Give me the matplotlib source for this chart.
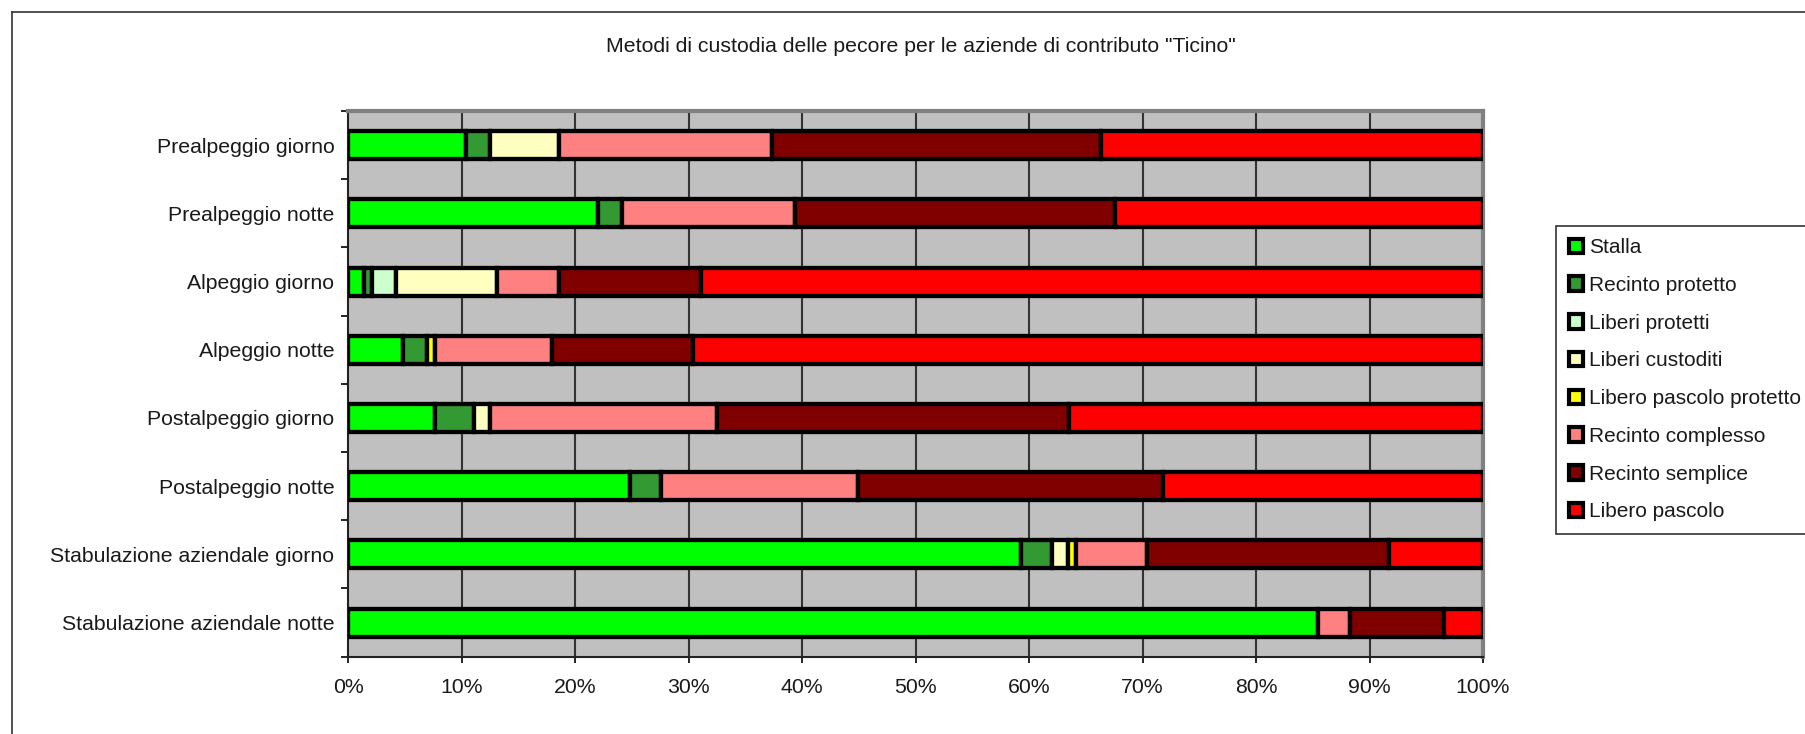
import matplotlib
matplotlib.use("Agg")
import matplotlib.pyplot as plt
from matplotlib.patches import Patch
from matplotlib.lines import Line2D
import numpy as np

plt.rcParams['font.family'] = ['Liberation Sans', 'DejaVu Sans']

categories = ['Prealpeggio giorno', 'Prealpeggio notte', 'Alpeggio giorno', 'Alpeggio notte',
              'Postalpeggio giorno', 'Postalpeggio notte', 'Stabulazione aziendale giorno',
              'Stabulazione aziendale notte']

# percentages per category (same order as categories)
stalla            = [10.4, 22.0, 1.4, 4.8, 7.6, 24.8, 59.3, 85.5]
recinto_protetto  = [2.1, 2.1, 0.7, 2.1, 3.5, 2.8, 2.75, 0.0]
liberi_protetti   = [0.0, 0.0, 2.1, 0.0, 0.0, 0.0, 0.0, 0.0]
liberi_custoditi  = [6.1, 0.0, 8.9, 0.0, 1.4, 0.0, 1.4, 0.0]
libero_pasc_prot  = [0.0, 0.0, 0.0, 0.7, 0.0, 0.0, 0.7, 0.0]
recinto_complesso = [18.7, 15.3, 5.5, 10.3, 20.0, 17.3, 6.25, 2.75]
recinto_semplice  = [29.0, 28.2, 12.5, 12.45, 31.0, 26.9, 21.3, 8.35]
libero_pascolo    = [33.7, 32.4, 68.9, 69.6, 36.5, 28.2, 8.3, 3.4]

series_names = ['Stalla', 'Recinto protetto', 'Liberi protetti', 'Liberi custoditi',
                'Libero pascolo protetto', 'Recinto complesso', 'Recinto semplice', 'Libero pascolo']
series_vals = [stalla, recinto_protetto, liberi_protetti, liberi_custoditi,
               libero_pasc_prot, recinto_complesso, recinto_semplice, libero_pascolo]
colors = ['#00FF00', '#339933', '#CCFFCC', '#FFFFC0', '#FFFF00', '#FF8080', '#800000', '#FF0000']

W, H = 1806, 734
fig = plt.figure(figsize=(W / 100, H / 100), dpi=100)
ax = fig.add_axes([348.3 / W, (H - 656.7) / H, (1483 - 348.3) / W, (656.7 - 111) / H])
ax.set_facecolor('#C0C0C0')

# normalise each row to 100%
data = np.array(series_vals, dtype=float)
data = data / data.sum(axis=0) * 100
y = np.arange(len(categories))
left = np.zeros(len(categories))
for vals, col in zip(data, colors):
    m = vals > 0
    ax.barh(y[m], vals[m], left=left[m], height=0.41, color=col,
            edgecolor='black', linewidth=3.1, zorder=3)
    left += vals

txt_col = '#1a1a1a'
ax.set_xlim(0, 100)
ax.set_ylim(len(categories) - 0.5, -0.5)
ax.set_xticks(np.arange(0, 101, 10))
ax.set_xticklabels([f'{v}%' for v in range(0, 101, 10)], fontsize=15.3, color=txt_col)
ax.set_yticks(y)
ax.set_yticklabels(categories, fontsize=15.3, color=txt_col)
ax.set_yticks(np.arange(-0.5, len(categories), 1), minor=True)
ax.tick_params(axis='y', which='major', length=0, pad=10)
ax.tick_params(axis='y', which='minor', length=5, width=1.2, direction='out')
ax.tick_params(axis='x', length=4.5, width=1.2, pad=11)

for xv in range(10, 100, 10):
    ax.axvline(xv, color='#333333', linewidth=1.5, zorder=1)

for s in ['left', 'bottom']:
    ax.spines[s].set_color('#222222')
    ax.spines[s].set_linewidth(1.5)
for s in ['top', 'right']:
    ax.spines[s].set_color('#808080')
    ax.spines[s].set_linewidth(3.0)

fig.text(921 / W, 1 - 46 / H, 'Metodi di custodia delle pecore per le aziende di contributo "Ticino"',
         ha='center', va='center', fontsize=15.3, color=txt_col)

handles = [Patch(facecolor=c, edgecolor='black', linewidth=3) for c in colors]
leg = fig.legend(handles, series_names, loc='upper left', bbox_to_anchor=(1556 / W, 1 - 225.7 / H),
                 fontsize=15, frameon=True, fancybox=False, edgecolor='black',
                 handlelength=0.7, handleheight=0.7, handletextpad=0.3, labelspacing=0.9,
                 borderpad=0.6, borderaxespad=0)
leg.get_frame().set_linewidth(1.2)
for t in leg.get_texts():
    t.set_color(txt_col)

# outer frame
fig.add_artist(Line2D([12 / W, 12 / W], [0, 1 - 12 / H], color='#333333', linewidth=1.2))
fig.add_artist(Line2D([12 / W, 1], [1 - 12 / H, 1 - 12 / H], color='#333333', linewidth=1.2))

fig.savefig('out.png', dpi=100)
